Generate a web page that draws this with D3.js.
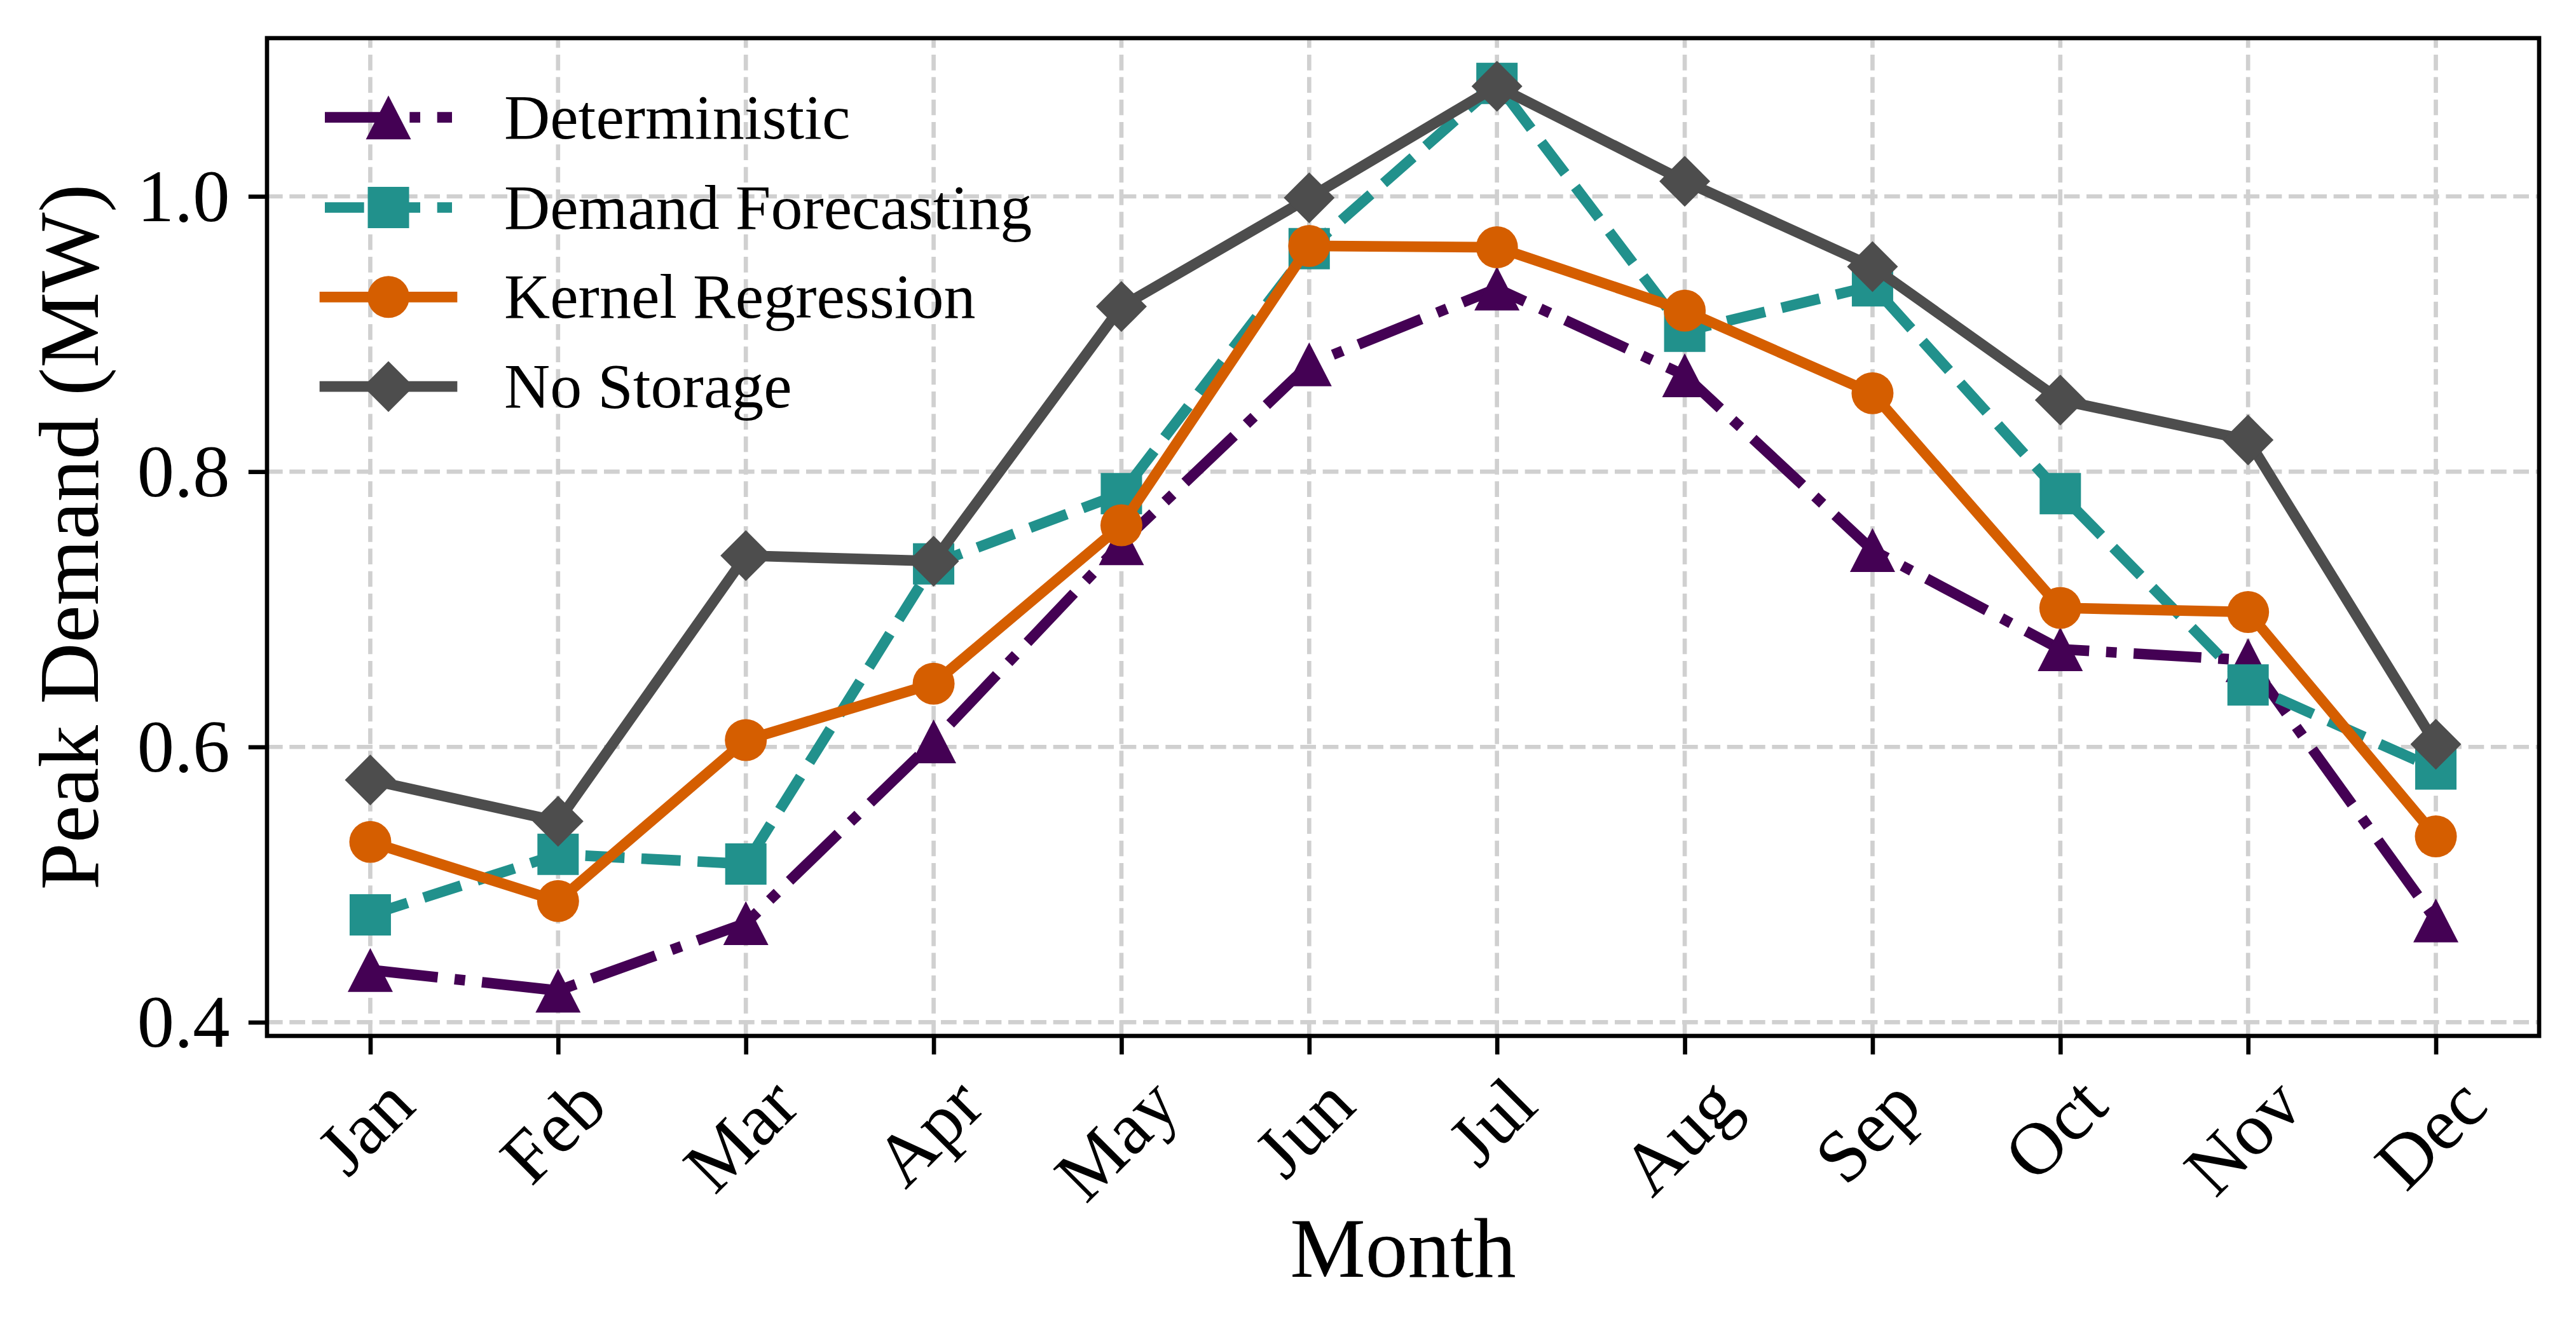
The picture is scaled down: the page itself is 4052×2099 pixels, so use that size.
<!DOCTYPE html>
<html>
<head>
<meta charset="utf-8">
<script src="https://cdn.jsdelivr.net/npm/d3@7"></script>
<style>
html, body { margin: 0; padding: 0; background: #ffffff; }
svg { display: block; }
</style>
</head>
<body>
<svg id="chart" width="4052" height="2099"></svg>
<script>
// ---------------- data ----------------
const months = ["Jan", "Feb", "Mar", "Apr", "May", "Jun", "Jul", "Aug", "Sep", "Oct", "Nov", "Dec"];
const deterministic     = [0.438, 0.423, 0.472, 0.604, 0.748, 0.878, 0.933, 0.870, 0.743, 0.671, 0.663, 0.474];
const demandForecasting = [0.478, 0.522, 0.515, 0.733, 0.784, 0.962, 1.082, 0.902, 0.935, 0.784, 0.645, 0.584];
const kernelRegression  = [0.531, 0.488, 0.605, 0.646, 0.761, 0.964, 0.963, 0.917, 0.857, 0.701, 0.698, 0.535];
const noStorage         = [0.576, 0.546, 0.739, 0.735, 0.920, 0.999, 1.080, 1.011, 0.949, 0.852, 0.823, 0.602];
const seriesNames = ["Deterministic", "Demand Forecasting", "Kernel Regression", "No Storage"];
const yTicks = [0.4, 0.6, 0.8, 1.0];
const xLabel = "Month";
const yLabel = "Peak Demand (MW)";

// ---------------- layout / style ----------------
const PT = 600 / 72;
const LW = 2 * PT;
const box = { left: 420, right: 3994, top: 60, bottom: 1630 };
const FONT = "'Liberation Serif', 'Times New Roman', Times, serif";
const tickLen = 3.5 * PT, tickPad = 3.5 * PT;

const styles = [
  { color: "#440154", dash: [6.4 * LW, 1.6 * LW, 1 * LW, 1.6 * LW], marker: "triangle", cap: "butt" },
  { color: "#21918c", dash: [3.7 * LW, 1.6 * LW], marker: "square", cap: "butt" },
  { color: "#d55e00", dash: null, marker: "circle", cap: "square" },
  { color: "#4d4d4d", dash: null, marker: "diamond", cap: "square" }
];
const seriesValues = [deterministic, demandForecasting, kernelRegression, noStorage];

function markerPath(type) {
  if (type === "triangle") { const w = 71, h = 69; return `M0,${-h/2}L${w/2},${h/2}L${-w/2},${h/2}Z`; }
  if (type === "square") { const s = 65; return `M${-s/2},${-s/2}H${s/2}V${s/2}H${-s/2}Z`; }
  if (type === "diamond") { const r = 40; return `M0,${-r}L${r},0L0,${r}L${-r},0Z`; }
  const r = 33; return `M${r},0A${r},${r},0,1,1,${-r},0A${r},${r},0,1,1,${r},0Z`;
}

const svg = d3.select("#chart");
svg.append("rect").attr("width", 4052).attr("height", 2099).attr("fill", "#ffffff");

// scales
const all = seriesValues.flat();
const lo = d3.min(all), hi = d3.max(all), span = hi - lo;
const y = d3.scaleLinear().domain([lo - 0.05 * span, hi + 0.05 * span]).range([box.bottom, box.top]);
const x = d3.scalePoint().domain(months).range([box.left, box.right]).padding(0.55);

// grid
const grid = svg.append("g").attr("stroke", "#d0d0d0").attr("stroke-width", 0.8 * PT)
  .attr("stroke-dasharray", `${3.7 * 0.8 * PT},${1.6 * 0.8 * PT}`).attr("fill", "none");
grid.selectAll("line.v").data(months).join("line").attr("class", "v")
  .attr("x1", d => x(d)).attr("x2", d => x(d)).attr("y1", box.bottom).attr("y2", box.top);
grid.selectAll("line.h").data(yTicks).join("line").attr("class", "h")
  .attr("x1", box.left).attr("x2", box.right).attr("y1", d => y(d)).attr("y2", d => y(d));

// series
const clip = svg.append("clipPath").attr("id", "plotclip").append("rect")
  .attr("x", box.left).attr("y", box.top).attr("width", box.right - box.left).attr("height", box.bottom - box.top);
const line = d3.line().x((d, i) => x(months[i])).y(d => y(d));
seriesValues.forEach((vals, k) => {
  const st = styles[k];
  const g = svg.append("g").attr("clip-path", "url(#plotclip)");
  g.append("path").datum(vals).attr("d", line).attr("fill", "none")
    .attr("stroke", st.color).attr("stroke-width", LW)
    .attr("stroke-linejoin", "round").attr("stroke-linecap", st.cap)
    .attr("stroke-dasharray", st.dash ? st.dash.join(",") : null);
  g.selectAll("path.m").data(vals).join("path").attr("class", "m")
    .attr("d", markerPath(st.marker)).attr("fill", st.color)
    .attr("transform", (d, i) => `translate(${x(months[i])},${y(d)})`);
});

// spines
svg.append("rect").attr("x", box.left).attr("y", box.top)
  .attr("width", box.right - box.left).attr("height", box.bottom - box.top)
  .attr("fill", "none").attr("stroke", "#000").attr("stroke-width", 0.8 * PT);

// y axis
const yAxis = svg.append("g").attr("transform", `translate(${box.left},0)`)
  .call(d3.axisLeft(y).tickValues(yTicks).tickFormat(d3.format(".1f")).tickSize(tickLen).tickPadding(tickPad).tickSizeOuter(0));
yAxis.select(".domain").remove();
yAxis.selectAll(".tick line").attr("stroke", "#000").attr("stroke-width", 0.8 * PT);
yAxis.selectAll(".tick text").attr("fill", "#000").style("font-family", FONT).style("font-size", (14 * PT) + "px")
  .attr("dy", "0.33em");

// x axis
const xAxis = svg.append("g").attr("transform", `translate(0,${box.bottom})`)
  .call(d3.axisBottom(x).tickSize(tickLen).tickPadding(tickPad).tickSizeOuter(0));
xAxis.select(".domain").remove();
xAxis.selectAll(".tick line").attr("stroke", "#000").attr("stroke-width", 0.8 * PT);
const xfs = 14 * PT;
xAxis.selectAll(".tick text").attr("fill", "#000").style("font-family", FONT).style("font-size", xfs + "px")
  .attr("text-anchor", "middle").attr("y", 0).attr("dy", "0.233em")
  .each(function () {
    const w = this.getBBox().width;
    const h = 0.9 * xfs;
    const side = (w + h) / Math.SQRT2;
    d3.select(this).attr("transform", `translate(0,${tickLen + tickPad + side / 2}) rotate(-45)`);
  });

// axis labels
svg.append("text").attr("x", (box.left + box.right) / 2).attr("y", 2009)
  .attr("text-anchor", "middle").style("font-family", FONT).style("font-size", (16 * PT) + "px").text(xLabel);
svg.append("text").attr("transform", `translate(154,${(box.top + box.bottom) / 2}) rotate(-90)`)
  .attr("text-anchor", "middle").style("font-family", FONT).style("font-size", (16 * PT) + "px").text(yLabel);

// legend
const legend = svg.append("g");
const rowY = [184.7, 326.5, 467.3, 608.2];
const hx0 = 511, hx1 = 711, hxm = 611, tx = 793;
seriesNames.forEach((name, k) => {
  const st = styles[k];
  const gy = rowY[k];
  legend.append("line").attr("x1", hx0).attr("x2", hx1).attr("y1", gy).attr("y2", gy)
    .attr("stroke", st.color).attr("stroke-width", LW).attr("stroke-linecap", st.cap)
    .attr("stroke-dasharray", st.dash ? st.dash.join(",") : null);
  legend.append("path").attr("d", markerPath(st.marker)).attr("fill", st.color)
    .attr("transform", `translate(${hxm},${gy})`);
  legend.append("text").attr("x", tx).attr("y", gy + 0.33 * 12 * PT)
    .style("font-family", FONT).style("font-size", (12 * PT) + "px").attr("fill", "#000").text(name);
});
</script>
</body>
</html>
